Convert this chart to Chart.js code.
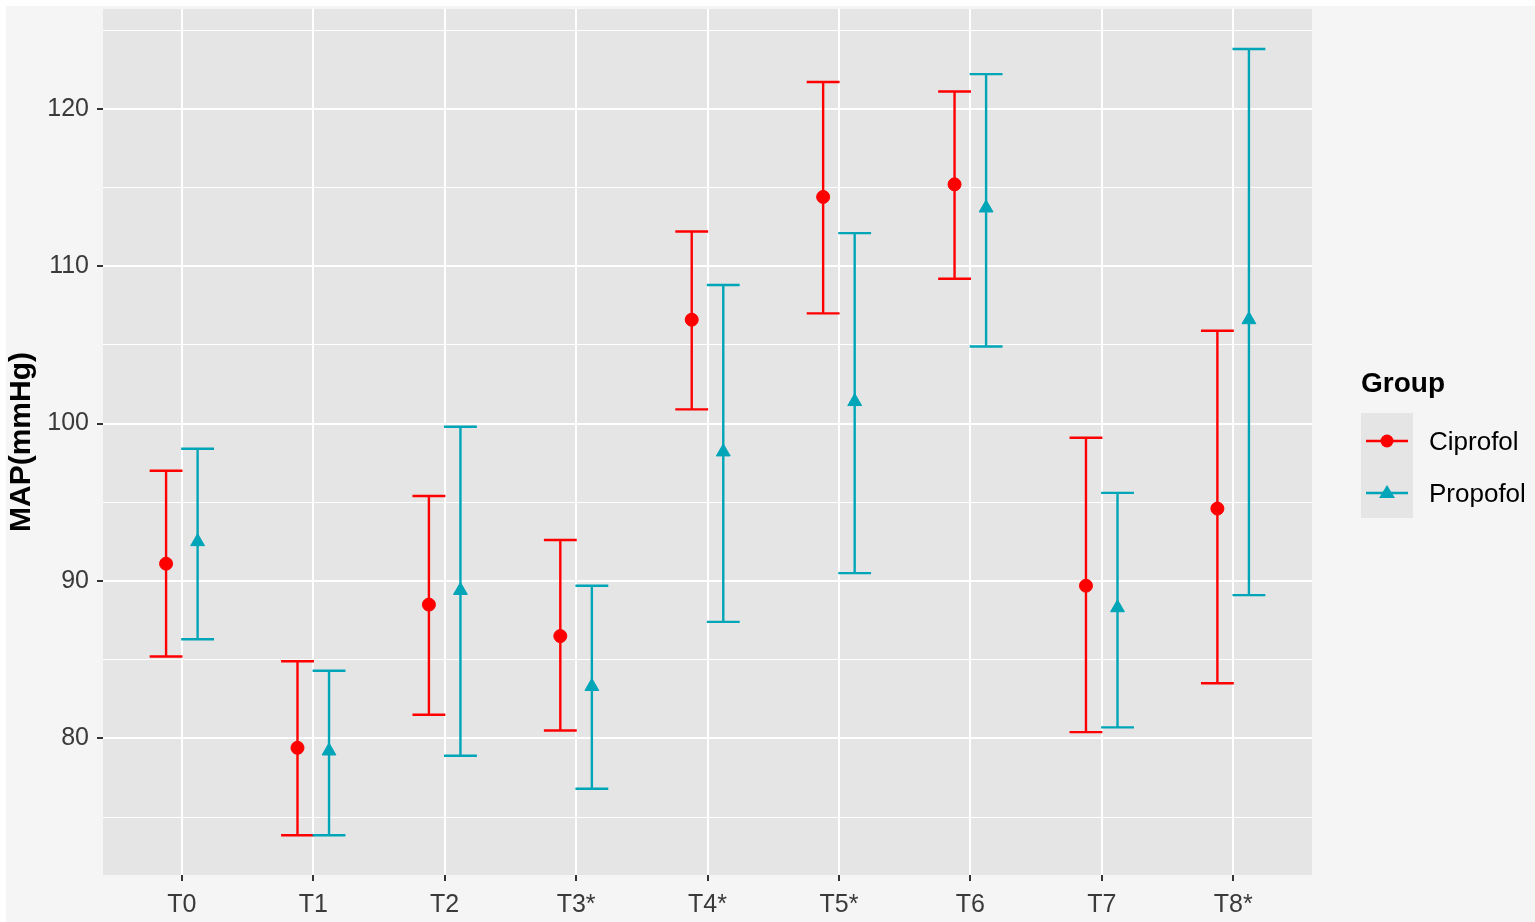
<!DOCTYPE html>
<html>
<head>
<meta charset="utf-8">
<script src="https://cdn.jsdelivr.net/npm/chart.js@4.4.1/dist/chart.umd.min.js"></script>
<style>
  html, body { margin: 0; padding: 0; background: #ffffff; }
  #wrap { width: 1535px; height: 922px; }
</style>
</head>
<body>
<div id="wrap"><canvas id="map"></canvas></div>
<script>
const timePoints = ['T0', 'T1', 'T2', 'T3*', 'T4*', 'T5*', 'T6', 'T7', 'T8*'];
const groups = ['Ciprofol', 'Propofol'];

const ciproMean  = [91.1, 79.4, 88.5, 86.5, 106.6, 114.4, 115.2, 89.7, 94.6];
const ciproUpper = [97.0, 84.9, 95.4, 92.6, 112.2, 121.7, 121.1, 99.1, 105.9];
const ciproLower = [85.2, 73.85, 81.5, 80.5, 100.9, 107.0, 109.2, 80.4, 83.5];

const propoMean  = [92.5, 79.2, 89.4, 83.3, 98.2, 101.4, 113.7, 88.3, 106.6];
const propoUpper = [98.4, 84.3, 99.8, 89.7, 108.8, 112.1, 122.2, 95.6, 123.8];
const propoLower = [86.3, 73.85, 78.9, 76.8, 87.4, 90.5, 104.9, 80.7, 89.1];

const yTicks = [75, 80, 85, 90, 95, 100, 105, 110, 115, 120, 125];

const dodge = 0.12;
const capHalf = 0.125;
const fontFamily = '"Liberation Sans", Arial, sans-serif';

const toPoints = (means, shift) => means.map((v, i) => ({ x: i + shift, y: v }));

const panelBg = {
    id: 'panelBg',
    beforeDraw(chart) {
        const { ctx, chartArea: a } = chart;
        ctx.save();
        ctx.fillStyle = '#f5f5f5';
        ctx.fillRect(6, 6, chart.width - 6, chart.height - 6);
        ctx.fillStyle = '#e5e5e5';
        ctx.fillRect(a.left, a.top, a.right - a.left, a.bottom - a.top);
        ctx.restore();
    }
};

const errorBars = {
    id: 'errorBars',
    beforeDatasetsDraw(chart) {
        const { ctx } = chart;
        const xs = chart.scales.x;
        const ys = chart.scales.y;
        ctx.save();
        ctx.lineWidth = 2.4;
        chart.data.datasets.forEach(ds => {
            ctx.strokeStyle = ds.borderColor;
            ds.data.forEach((p, i) => {
                const x = xs.getPixelForValue(p.x);
                const x0 = xs.getPixelForValue(p.x - capHalf);
                const x1 = xs.getPixelForValue(p.x + capHalf);
                const yt = ys.getPixelForValue(ds.upper[i]);
                const yb = ys.getPixelForValue(ds.lower[i]);
                ctx.beginPath();
                ctx.moveTo(x, yt); ctx.lineTo(x, yb);
                ctx.moveTo(x0, yt); ctx.lineTo(x1, yt);
                ctx.moveTo(x0, yb); ctx.lineTo(x1, yb);
                ctx.stroke();
            });
        });
        ctx.restore();
    }
};

const groupLegend = {
    id: 'groupLegend',
    afterDraw(chart) {
        const { ctx } = chart;
        ctx.save();
        ctx.fillStyle = '#000';
        ctx.font = 'bold 28px ' + fontFamily;
        ctx.textBaseline = 'middle';
        ctx.fillText('Group', 1361, 384);
        ctx.fillStyle = '#e5e5e5';
        ctx.fillRect(1361, 413, 52, 105);
        chart.data.datasets.forEach((ds, k) => {
            const cy = 441 + k * 52;
            ctx.strokeStyle = ds.borderColor;
            ctx.lineWidth = 2.4;
            ctx.beginPath();
            ctx.moveTo(1366, cy); ctx.lineTo(1408, cy);
            ctx.stroke();
            ctx.fillStyle = ds.backgroundColor;
            ctx.beginPath();
            if (ds.pointStyle === 'triangle') {
                ctx.moveTo(1387, cy - 8);
                ctx.lineTo(1395, cy + 5);
                ctx.lineTo(1379, cy + 5);
                ctx.closePath();
            } else {
                ctx.arc(1387, cy, 6.5, 0, Math.PI * 2);
            }
            ctx.fill();
            ctx.fillStyle = '#000';
            ctx.font = '26px ' + fontFamily;
            ctx.fillText(ds.label, 1429, cy + 2);
        });
        ctx.restore();
    }
};

new Chart(document.getElementById('map'), {
    type: 'scatter',
    data: {
        datasets: [
            {
                label: groups[0],
                data: toPoints(ciproMean, -dodge),
                upper: ciproUpper,
                lower: ciproLower,
                borderColor: '#ff0000',
                backgroundColor: '#ff0000',
                pointStyle: 'circle',
                pointRadius: 6.5,
                pointHoverRadius: 6.5
            },
            {
                label: groups[1],
                data: toPoints(propoMean, dodge),
                upper: propoUpper,
                lower: propoLower,
                borderColor: '#00a5b8',
                backgroundColor: '#00a5b8',
                pointStyle: 'triangle',
                pointRadius: 8,
                pointHoverRadius: 8
            }
        ]
    },
    options: {
        responsive: true,
        maintainAspectRatio: false,
        animation: false,
        layout: { padding: { top: 7, right: 223, left: 0, bottom: 0 } },
        plugins: {
            legend: { display: false },
            tooltip: { enabled: false }
        },
        scales: {
            x: {
                type: 'linear',
                min: -0.6,
                max: 8.6,
                afterBuildTicks: (scale) => {
                    scale.ticks = timePoints.map((_, i) => ({ value: i }));
                },
                afterFit: (scale) => {
                    scale.height = 47;
                    scale.paddingLeft = 0;
                    scale.paddingRight = 0;
                },
                border: { display: false },
                grid: {
                    color: '#ffffff',
                    lineWidth: 2,
                    tickColor: '#333333',
                    tickLength: 6
                },
                ticks: {
                    callback: (value) => timePoints[value],
                    color: '#3a3a3a',
                    font: { size: 25, family: fontFamily },
                    padding: 9,
                    maxRotation: 0
                }
            },
            y: {
                min: 71.32,
                max: 126.34,
                afterBuildTicks: (scale) => {
                    scale.ticks = yTicks.map(v => ({ value: v }));
                },
                afterFit: (scale) => {
                    scale.width = 103;
                    scale.paddingTop = 0;
                    scale.paddingBottom = 0;
                },
                border: { display: false },
                grid: {
                    color: '#ffffff',
                    lineWidth: (c) => (c.tick && c.tick.value % 10 === 0 ? 2 : 1),
                    tickColor: (c) => (c.tick && c.tick.value % 10 === 0 ? '#333333' : 'rgba(0,0,0,0)'),
                    tickLength: 6
                },
                ticks: {
                    callback: (value) => (value % 10 === 0 ? String(value) : ''),
                    color: '#3a3a3a',
                    font: { size: 25, family: fontFamily },
                    padding: 8
                },
                title: {
                    display: true,
                    text: 'MAP(mmHg)',
                    color: '#000000',
                    font: { size: 30, weight: 'bold', family: fontFamily },
                    padding: { top: 4, bottom: 0 }
                }
            }
        }
    },
    plugins: [panelBg, errorBars, groupLegend]
});
</script>
</body>
</html>
